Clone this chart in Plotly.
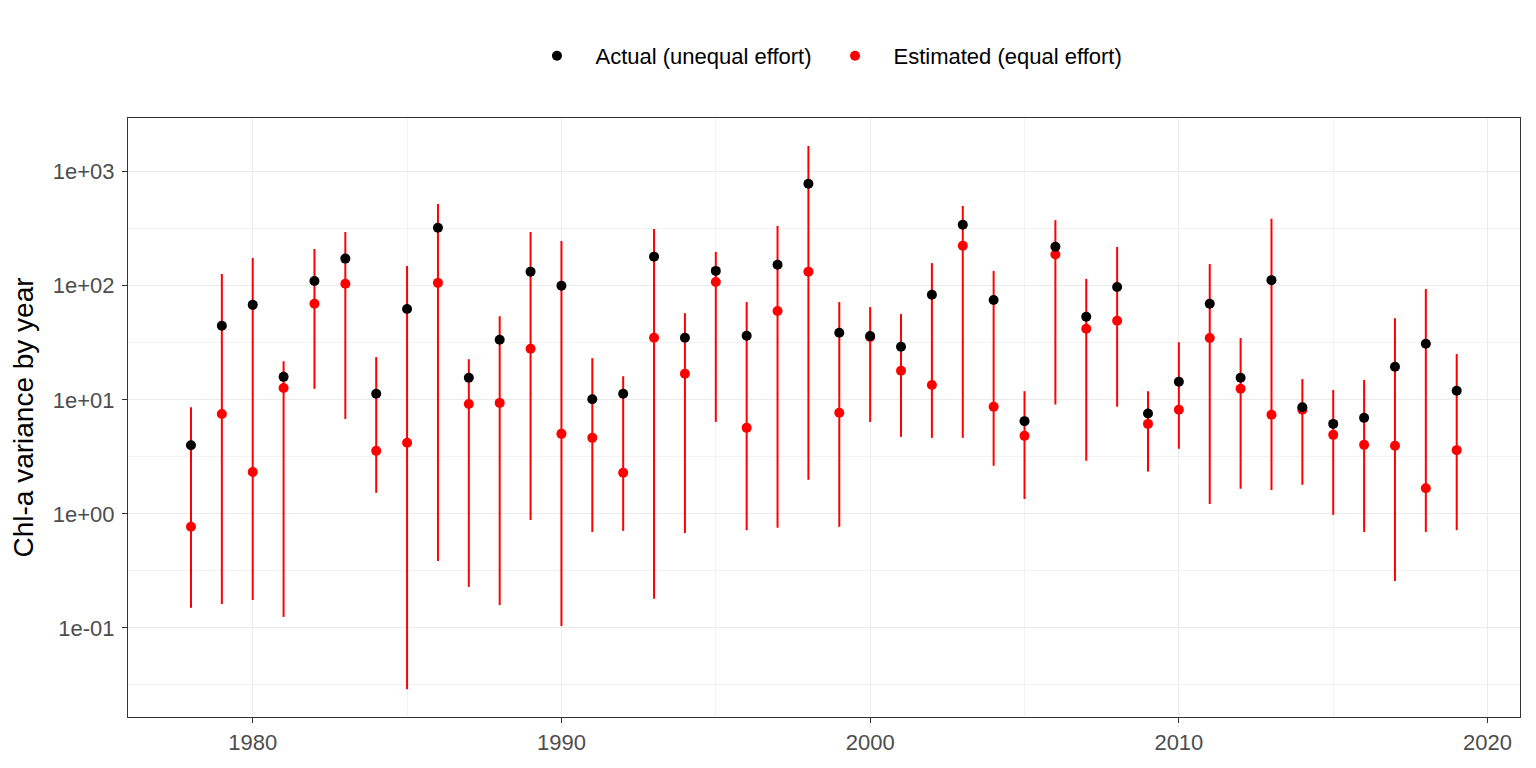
import plotly.graph_objects as go
import numpy as np

years = list(range(1978, 2020))
actual = [4.0, 44.6, 68, 15.9, 110, 173, 11.3, 62.5, 323, 15.6, 33.6, 133, 100, 10.1, 11.3,
          180, 35, 135, 36.4, 153, 785, 38.7, 36.2, 29.2, 83.4, 343, 75, 6.5, 220, 53.5,
          97.5, 7.6, 14.4, 69.5, 15.6, 112, 8.6, 6.15, 6.95, 19.5, 31, 12.0]
estimated = [0.77, 7.5, 2.33, 12.7, 69.5, 104, 3.57, 4.2, 106, 9.2, 9.4, 28, 5.03, 4.64, 2.29,
             35, 16.9, 108, 5.68, 60, 133, 7.7, 35.5, 18, 13.5, 224, 8.7, 4.83, 188, 42,
             49.3, 6.15, 8.17, 34.8, 12.5, 7.4, 8.2, 4.93, 4.03, 3.95, 1.68, 3.62]
upper = [8.6, 127, 175, 21.8, 210, 296, 23.7, 149, 521, 22.7, 54, 296, 247, 23.2, 16.1,
         315, 57.6, 198, 72, 334, 1683, 72, 65, 56.5, 158, 501, 135, 11.9, 376, 115,
         219, 11.9, 32, 155, 34.8, 387, 15.2, 12.2, 14.9, 52, 93.6, 25.2]
lower = [0.15, 0.162, 0.176, 0.125, 12.5, 6.8, 1.53, 0.029, 0.387, 0.229, 0.159, 0.885, 0.104,
         0.695, 0.71, 0.18, 0.68, 6.4, 0.72, 0.754, 1.99, 0.77, 6.4, 4.73, 4.64, 4.64, 2.64,
         1.35, 9.1, 2.92, 8.7, 2.35, 3.72, 1.22, 1.66, 1.62, 1.8, 0.98, 0.695, 0.258, 0.695, 0.72]

y_ticks = [0.1, 1, 10, 100, 1000]
y_ticklabels = ["1e-01", "1e+00", "1e+01", "1e+02", "1e+03"]
x_ticks = [1980, 1990, 2000, 2010, 2020]
x_minor = [1975, 1985, 1995, 2005, 2015]
y_minor = [10 ** -1.5, 10 ** -0.5, 10 ** 0.5, 10 ** 1.5, 10 ** 2.5, 10 ** 3.5]

est = np.array(estimated)
err_plus = np.array(upper) - est
err_minus = est - np.array(lower)

fig = go.Figure()
fig.add_trace(go.Scatter(
    x=years, y=estimated, mode="markers", name="Estimated (equal effort)",
    marker=dict(color="#FF0000", size=10),
    error_y=dict(type="data", symmetric=False, array=err_plus, arrayminus=err_minus,
                 color="#FF0000", thickness=2, width=0),
    legendrank=2,
))
fig.add_trace(go.Scatter(
    x=years, y=actual, mode="markers", name="Actual (unequal effort)",
    marker=dict(color="#000000", size=10),
    legendrank=1,
))

font = "Liberation Sans, Arial, sans-serif"
fig.update_layout(
    width=1536, height=768,
    margin=dict(l=120, r=24, t=110, b=59),
    paper_bgcolor="white", plot_bgcolor="white",
    font=dict(family=font, color="#000000"),
    showlegend=True,
    legend=dict(orientation="h", x=0.2805, xanchor="left", y=1.1036, yanchor="middle",
                font=dict(size=22, color="#000000"), itemwidth=67,
                bgcolor="rgba(0,0,0,0)"),
    xaxis=dict(range=[1975.96, 2021.05], tickvals=x_ticks, showgrid=True,
               gridcolor="#EBEBEB", gridwidth=1.4, automargin=False,
               minor=dict(tickvals=x_minor, showgrid=True,
                          gridcolor="#F2F2F2", gridwidth=0.8),
               ticks="outside", ticklen=5, tickcolor="#333333", tickwidth=1.2,
               tickfont=dict(size=22, color="#4D4D4D"),
               showline=True, linecolor="#333333", linewidth=1.2, mirror=True,
               zeroline=False),
    yaxis=dict(type="log", range=[-1.781, 3.471], tickvals=y_ticks, ticktext=y_ticklabels,
               showgrid=True, gridcolor="#EBEBEB", gridwidth=1.4, automargin=False,
               minor=dict(tickvals=y_minor, showgrid=True, gridcolor="#F2F2F2", gridwidth=0.8),
               ticks="outside", ticklen=5, tickcolor="#333333", tickwidth=1.2,
               ticklabelstandoff=3,
               tickfont=dict(size=22, color="#4D4D4D"),
               title=dict(text="Chl-a variance by year", font=dict(size=28, color="#000000"), standoff=10),
               showline=True, linecolor="#333333", linewidth=1.2, mirror=True,
               zeroline=False),
)

fig.write_html("out.html")
